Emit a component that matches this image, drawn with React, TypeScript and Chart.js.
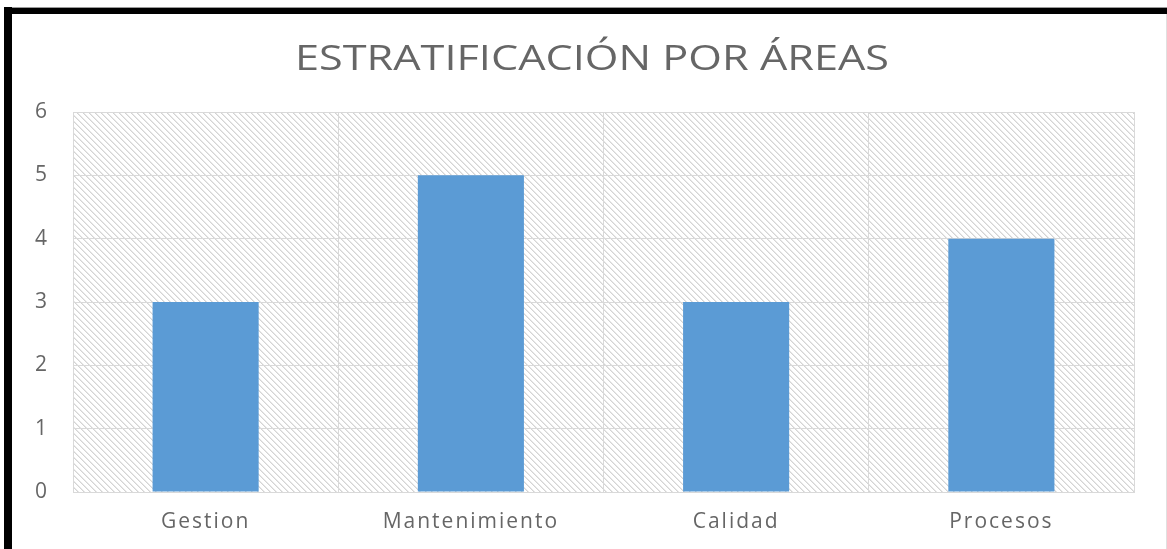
import React, { useEffect, useRef } from "react";
import { Chart, registerables } from "chart.js";

Chart.register(...registerables);

const chartTitle = "ESTRATIFICACIÓN POR ÁREAS";
const categories = ["Gestion", "Mantenimiento", "Calidad", "Procesos"];
const values = [3, 5, 3, 4];
const yTicks = [0, 1, 2, 3, 4, 5, 6];

function makePattern(): CanvasPattern | string {
  const size = 6;
  const c = document.createElement("canvas");
  c.width = size;
  c.height = size;
  const ctx = c.getContext("2d");
  if (!ctx) return "#ffffff";
  const img = ctx.createImageData(size, size);
  for (let y = 0; y < size; y++) {
    for (let x = 0; x < size; x++) {
      const d = (x - y + size * 2) % size;
      const i = (y * size + x) * 4;
      let v = 255;
      if (d === 0) v = 212;
      else if (d === 1) v = 232;
      img.data[i] = v;
      img.data[i + 1] = v;
      img.data[i + 2] = v;
      img.data[i + 3] = 255;
    }
  }
  ctx.putImageData(img, 0, 0);
  const p = ctx.createPattern(c, "repeat");
  return p || "#ffffff";
}

const hatchPlugin = {
  id: "hatch",
  beforeDraw(chart: any) {
    const { ctx, chartArea } = chart;
    if (!chartArea) return;
    ctx.save();
    ctx.fillStyle = makePattern();
    ctx.fillRect(chartArea.left, chartArea.top, chartArea.right - chartArea.left, chartArea.bottom - chartArea.top);
    ctx.restore();
    (ctx as any).letterSpacing = "2px";
  },
  afterDraw(chart: any) {
    const { ctx } = chart;
    ctx.save();
    (ctx as any).letterSpacing = "0px";
    ctx.font = "35px 'Open Sans'";
    ctx.fillStyle = "#666666";
    ctx.textBaseline = "alphabetic";
    ctx.textAlign = "left";
    const sx = 1.236;
    const w = ctx.measureText(chartTitle).width * sx;
    const cx = 592;
    ctx.translate(cx - w / 2, 70);
    ctx.scale(sx, 1);
    ctx.fillText(chartTitle, 0, 0);
    ctx.restore();
  },
};

export default function App() {
  const ref = useRef<HTMLCanvasElement>(null);
  useEffect(() => {
    if (!ref.current) return;
    const chart = new Chart(ref.current, {
      type: "bar",
      data: {
        labels: categories,
        datasets: [
          {
            data: values,
            backgroundColor: "#5b9bd5",
            borderWidth: 0,
            barPercentage: 0.4,
            categoryPercentage: 1,
          },
        ],
      },
      options: {
        animation: false,
        responsive: false,
        maintainAspectRatio: false,
        layout: { padding: { left: 10, right: 33, top: 112, bottom: 0 } },
        plugins: {
          legend: { display: false },
          tooltip: { enabled: false },
          title: { display: false },
        },
        scales: {
          x: {
            grid: { color: "#d9d9d9", drawTicks: false, offset: true },
            border: { color: "#d9d9d9" },
            ticks: {
              color: "#666666",
              font: { family: "'Open Sans'", size: 21 },
              padding: 17,
            },
            afterFit: (scale: any) => {
              scale.height = 57;
            },
          },
          y: {
            min: yTicks[0],
            max: yTicks[yTicks.length - 1],
            grid: { color: "#d9d9d9", drawTicks: false },
            border: { color: "#d9d9d9" },
            ticks: {
              stepSize: 1,
              color: "#666666",
              font: { family: "'Open Sans'", size: 21 },
              padding: 24,
            },
            afterFit: (scale: any) => {
              scale.width = 63;
            },
          },
        },
      },
      plugins: [hatchPlugin],
    });
    return () => chart.destroy();
  }, []);

  return (
    <div style={{ position: "fixed", left: 0, top: 0, width: 1167, height: 549, background: "#ffffff", overflow: "hidden" }}>
      <canvas ref={ref} width={1167} height={549} style={{ position: "absolute", left: 0, top: 0, width: 1167, height: 549 }} />
      <div style={{ position: "absolute", left: 4, top: 7, width: 1163, height: 1, background: "#9a9a9a" }} />
      <div style={{ position: "absolute", left: 4, top: 8, width: 1163, height: 6, background: "#000000" }} />
      <div style={{ position: "absolute", left: 4, top: 7, width: 8, height: 542, background: "#000000" }} />
      <div style={{ position: "absolute", left: 1166, top: 14, width: 1, height: 535, background: "#e0e0e0" }} />
    </div>
  );
}
